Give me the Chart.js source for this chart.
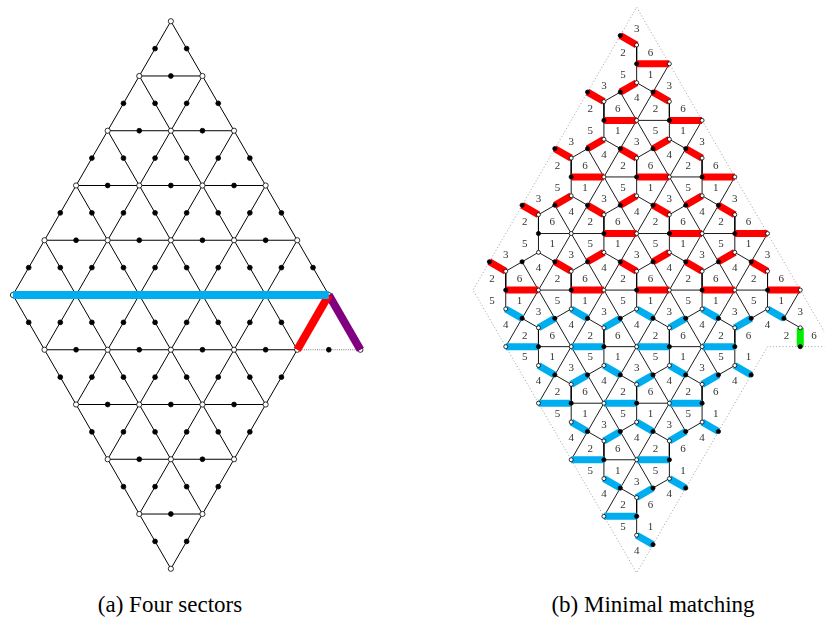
<!DOCTYPE html>
<html>
<head>
<meta charset="utf-8">
<script src="https://cdn.jsdelivr.net/npm/chart.js@4.4.1/dist/chart.umd.min.js"></script>
<style>
  body { margin: 0; background: #fff; width: 829px; height: 628px; position: relative; overflow: hidden; }
  canvas { position: absolute; top: 0; }
  .cap { position: absolute; top: 592px; font-family: "Liberation Serif", serif; font-size: 23px; color: #000;
         white-space: nowrap; transform: translateX(-50%); }
</style>
</head>
<body>
<canvas id="chartLeft" width="414" height="590" style="left:0"></canvas>
<canvas id="chartRight" width="415" height="590" style="left:414px"></canvas>
<div class="cap" id="capLeft" style="left:170px"></div>
<div class="cap" id="capRight" style="left:653px"></div>
<script>
// ---- data -------------------------------------------------------------
// lattice points are [u, v]: u steps down-left, v steps down-right
const sideLen = 5;

// (a) highlighted edges and the extra triangle on the right
const leftThickEdges = [
  { from: [5, 0], to: [0, 5], color: '#00aeef' },
  { from: [1, 5], to: [0, 5], color: '#ff0000' },
  { from: [0, 5], to: [0, 6], color: '#800080' }
];
const leftExtraVertices = [[0, 6]];
const leftDottedEdges = [[[1, 5], [0, 6]]];

// (b) matching: lattice vertices and triangle centres, by colour
const redVertices = [[0, 1], [1, 1], [0, 2], [2, 1], [1, 2], [0, 3], [2, 2], [1, 3], [0, 4],
                     [4, 1], [3, 2], [2, 3], [1, 4], [0, 5]];
const redUp = [[0, 0], [1, 0], [0, 1], [2, 0], [1, 1], [0, 2], [3, 0], [2, 1], [1, 2], [0, 3],
               [4, 0], [3, 1], [2, 2], [1, 3], [0, 4]];
const redDown = [[0, 0], [1, 0], [0, 1], [2, 0], [1, 1], [0, 2], [2, 1], [1, 2], [0, 3]];
const blueVertices = [[5, 1], [4, 2], [3, 3], [2, 4], [5, 2], [4, 3], [3, 4], [5, 3], [4, 4], [5, 4]];
const blueDown = [[4, 0], [3, 1], [2, 2], [1, 3], [0, 4], [4, 1], [3, 2], [2, 3], [1, 4],
                  [4, 2], [3, 3], [2, 4], [4, 3], [3, 4], [4, 4]];
const blueUp = [[4, 1], [3, 2], [2, 3], [1, 4], [4, 2], [3, 3], [2, 4], [4, 3], [3, 4], [4, 4]];
const greenUp = [[0, 5]];
const unmatchedVertices = [[3, 1]];
const extraUpTriangles = [[0, 5]];
const outline = [[0, 0], [0, 5], [0, 6], [1, 5], [5, 5], [5, 0], [0, 0]];

// corner labels of the faces
const upLabels = ['3', '2', '6'];   // top, bottom-left, bottom-right
const downLabels = ['5', '1', '4']; // top-left, top-right, bottom
const captions = ['(a) Four sectors', '(b) Minimal matching'];

// ---- helpers ------------------------------------------------------------
const GAP = { x: null, y: null };
const toXY = ([u, v]) => ({ x: v - u, y: u + v });
const mid = (a, b) => [(a[0] + b[0]) / 2, (a[1] + b[1]) / 2];
const key = p => p[0] + ',' + p[1];

function segments(pairs) {
  const out = [];
  pairs.forEach(([a, b]) => out.push(toXY(a), toXY(b), GAP));
  return out;
}

function frame(o) {
  return {
    x: { type: 'linear', display: false, min: -o.ox / o.sx, max: (o.w - o.ox) / o.sx },
    y: { type: 'linear', display: false, reverse: true, min: -o.oy / o.sy, max: (o.h - o.oy) / o.sy }
  };
}

const baseOptions = scales => ({
  responsive: false,
  animation: false,
  events: [],
  layout: { padding: 0 },
  plugins: { legend: { display: false }, tooltip: { enabled: false } },
  scales
});

const lineSet = (data, color, width, order, extra) => Object.assign({
  data, showLine: true, borderColor: color, borderWidth: width, pointRadius: 0, order,
  borderCapStyle: 'butt', borderJoinStyle: 'miter'
}, extra || {});

const dotSet = (data, fill, radius, order) => ({
  data, showLine: false, pointRadius: radius, pointBackgroundColor: fill,
  pointBorderColor: '#000', pointBorderWidth: 0.8, order
});

// ---- (a) four sectors -------------------------------------------------
const leftVerts = [];
const leftEdges = [];
for (let u = 0; u <= sideLen; u++) {
  for (let v = 0; v <= sideLen; v++) {
    leftVerts.push([u, v]);
    if (u < sideLen) leftEdges.push([[u, v], [u + 1, v]]);
    if (v < sideLen) leftEdges.push([[u, v], [u, v + 1]]);
    if (u < sideLen && v > 0) leftEdges.push([[u, v], [u + 1, v - 1]]);
  }
}
leftExtraVertices.forEach(p => leftVerts.push(p));
const leftMids = leftEdges.concat(leftDottedEdges, leftThickEdges.map(e => [e.from, e.to]))
  .map(([a, b]) => toXY(mid(a, b)));

const leftFrame = { ox: 170, oy: 16.7, sx: 32.34, sy: 55.66, w: 414, h: 590 };
new Chart(document.getElementById('chartLeft'), {
  type: 'scatter',
  data: {
    datasets: [
      ...leftThickEdges.map(e => lineSet(segments([[e.from, e.to]]), e.color, 8, 1)),
      dotSet(leftVerts.map(toXY), '#fff', 2.6, 3),
      dotSet(leftMids, '#000', 2.4, 3),
      lineSet(segments(leftEdges), '#000', 1, 5),
      lineSet(segments(leftDottedEdges), '#777', 1, 5, { borderDash: [1, 1.2] })
    ]
  },
  options: baseOptions(frame(leftFrame))
});

// ---- (b) minimal matching ---------------------------------------------
const triangles = [];
for (let u = 0; u < sideLen; u++) {
  for (let v = 0; v < sideLen; v++) {
    triangles.push({ up: true, corners: [[u, v], [u + 1, v], [u, v + 1]] });
    triangles.push({ up: false, corners: [[u + 1, v], [u, v + 1], [u + 1, v + 1]] });
  }
}
extraUpTriangles.forEach(([u, v]) => triangles.push({ up: true, corners: [[u, v], [u + 1, v], [u, v + 1]] }));

// midpoints of the u = 0 and u = sideLen side edges are not part of graph (b)
const midShown = (a, b) => !(a[0] === b[0] && (a[0] === 0 || a[0] === sideLen));

const shownVertices = new Set(redVertices.concat(blueVertices, unmatchedVertices).map(key));
const edgeMap = new Map();
const centres = [];
const labels = [];
const rightThin = [];
triangles.forEach(t => {
  const c = [0, 1].map(i => t.corners.reduce((s, p) => s + p[i], 0) / 3);
  centres.push(c);
  const names = t.up ? upLabels : downLabels;
  t.corners.forEach((p, i) => {
    labels.push({ text: names[i], at: [p[0] + 0.58 * (c[0] - p[0]), p[1] + 0.58 * (c[1] - p[1])] });
  });
  [[0, 1], [0, 2], [1, 2]].forEach(([i, j]) => {
    const a = t.corners[i], b = t.corners[j];
    if (!midShown(a, b)) return;
    const m = mid(a, b);
    rightThin.push([c, m]);
    edgeMap.set(key(m), [a, b]);
  });
});
const rightMids = [];
edgeMap.forEach(([a, b]) => {
  const m = mid(a, b);
  rightMids.push(m);
  [a, b].forEach(p => { if (shownVertices.has(key(p))) rightThin.push([p, m]); });
});

const cUp = ([u, v]) => [u + 1 / 3, v + 1 / 3];
const cDown = ([u, v]) => [u + 2 / 3, v + 2 / 3];
const redBars = [
  ...redVertices.map(([u, v]) => [[u, v], [u + 0.5, v - 0.5]]),
  ...redUp.map(p => [cUp(p), [p[0] + 0.5, p[1]]]),
  ...redDown.map(p => [cDown(p), [p[0] + 1, p[1] + 0.5]])
];
const blueBars = [
  ...blueVertices.map(([u, v]) => [[u, v], [u - 0.5, v + 0.5]]),
  ...blueDown.map(p => [cDown(p), [p[0] + 0.5, p[1] + 1]]),
  ...blueUp.map(p => [cUp(p), [p[0], p[1] + 0.5]])
];
const greenBars = greenUp.map(p => [cUp(p), [p[0] + 0.5, p[1] + 0.5]]);

const cornerLabels = {
  id: 'cornerLabels',
  afterDatasetsDraw(chart) {
    const { ctx, scales: { x, y } } = chart;
    ctx.save();
    ctx.font = '11px "Liberation Serif"';
    ctx.fillStyle = '#333';
    ctx.textAlign = 'center';
    ctx.textBaseline = 'middle';
    labels.forEach(l => {
      const p = toXY(l.at);
      ctx.fillText(l.text, x.getPixelForValue(p.x), y.getPixelForValue(p.y));
    });
    ctx.restore();
  }
};

const rightFrame = { ox: 223, oy: 2.5, sx: 33.5, sy: 57.5, w: 415, h: 590 };
new Chart(document.getElementById('chartRight'), {
  type: 'scatter',
  data: {
    datasets: [
      dotSet(rightMids.map(toXY), '#000', 2.1, 1),
      dotSet(centres.concat([...shownVertices].map(s => s.split(',').map(Number))).map(toXY), '#fff', 2.0, 1),
      lineSet(segments(redBars), '#ff0000', 7, 2),
      lineSet(segments(blueBars), '#00aeef', 7, 2),
      lineSet(segments(greenBars), '#00ee00', 7, 2),
      lineSet(segments(rightThin), '#000', 0.9, 4),
      lineSet(outline.map(toXY), '#888', 0.8, 5, { borderDash: [1, 2.2] })
    ]
  },
  options: baseOptions(frame(rightFrame)),
  plugins: [cornerLabels]
});

document.getElementById('capLeft').textContent = captions[0];
document.getElementById('capRight').textContent = captions[1];
</script>
</body>
</html>
